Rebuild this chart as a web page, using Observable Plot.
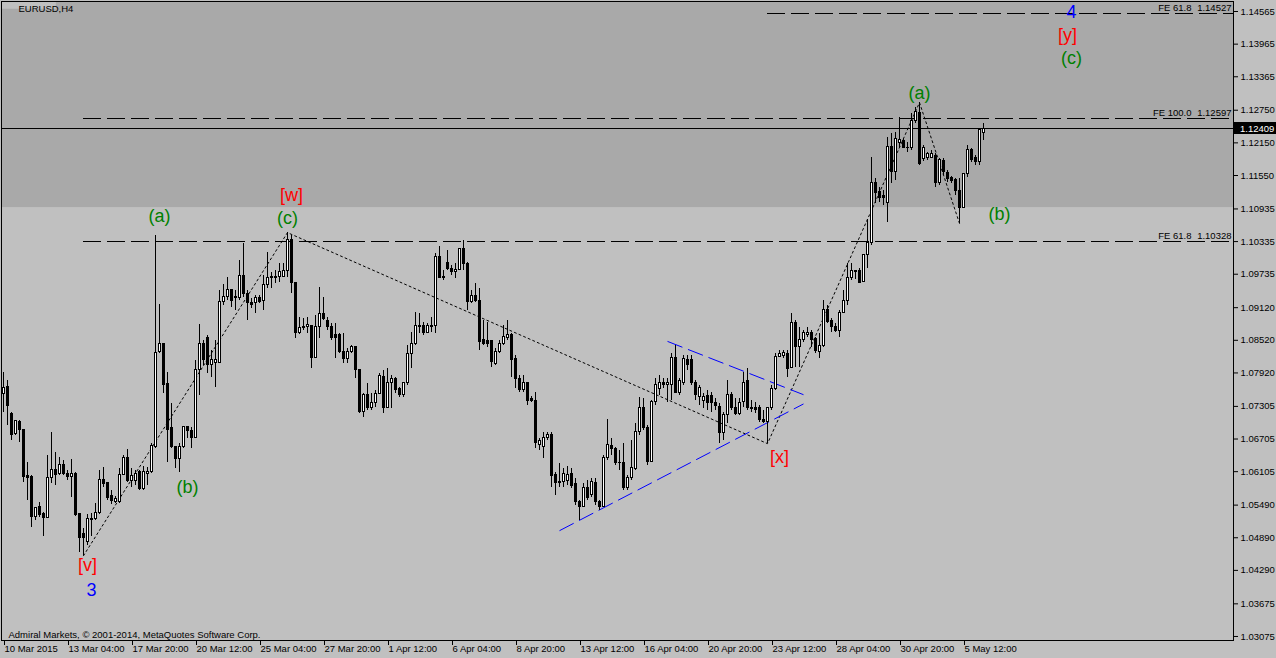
<!DOCTYPE html>
<html><head><meta charset="utf-8">
<script src="https://cdn.jsdelivr.net/npm/d3@7"></script>
<script src="https://cdn.jsdelivr.net/npm/@observablehq/plot@0.6"></script>
<style>
html,body{margin:0;padding:0;background:#c0c0c0;overflow:hidden}
#chart svg{display:block}
</style></head><body><div id="chart"></div>
<script>
// EURUSD H4 bars, index 0 = 10 Mar 2015 12:00, [open, high, low, close]
const bars = [
[1.0754,1.0793,1.0719,1.0765],[1.0767,1.0778,1.0695,1.0732],[1.0717,1.0719,1.0668,1.0677],[1.0679,1.0705,1.0677,1.0703],
[1.0701,1.0705,1.0664,1.0688],[1.0688,1.0688,1.0591,1.0600],[1.0602,1.0627,1.0558,1.0598],[1.0600,1.0603,1.0508,1.0528],
[1.0528,1.0545,1.0521,1.0543],[1.0545,1.0554,1.0526,1.0530],[1.0532,1.0535,1.0491,1.0526],[1.0526,1.0640,1.0524,1.0598],
[1.0598,1.0683,1.0589,1.0613],[1.0613,1.0646,1.0585,1.0605],[1.0607,1.0637,1.0603,1.0622],[1.0622,1.0631,1.0603,1.0607],
[1.0607,1.0613,1.0594,1.0600],[1.0600,1.0633,1.0563,1.0607],[1.0607,1.0609,1.0528,1.0530],[1.0532,1.0532,1.0462,1.0489],
[1.0495,1.0506,1.0456,1.0489],[1.0482,1.0532,1.0475,1.0524],[1.0524,1.0534,1.0491,1.0521],[1.0523,1.0552,1.0521,1.0534],
[1.0534,1.0613,1.0532,1.0596],[1.0596,1.0618,1.0581,1.0587],[1.0589,1.0591,1.0558,1.0563],[1.0565,1.0576,1.0550,1.0556],
[1.0554,1.0565,1.0552,1.0561],[1.0554,1.0616,1.0552,1.0605],[1.0605,1.0640,1.0603,1.0635],[1.0635,1.0651,1.0591,1.0593],
[1.0594,1.0616,1.0581,1.0603],[1.0593,1.0613,1.0585,1.0607],[1.0609,1.0613,1.0576,1.0578],[1.0578,1.0620,1.0576,1.0609],
[1.0607,1.0618,1.0585,1.0609],[1.0609,1.0662,1.0607,1.0657],[1.0655,1.1045,1.0653,1.0828],[1.0830,1.0918,1.0828,1.0846],
[1.0846,1.0846,1.0754,1.0769],[1.0771,1.0793,1.0627,1.0688],[1.0690,1.0736,1.0653,1.0655],[1.0655,1.0657,1.0616,1.0633],
[1.0633,1.0662,1.0609,1.0655],[1.0655,1.0692,1.0653,1.0692],[1.0692,1.0694,1.0672,1.0686],[1.0686,1.0692,1.0653,1.0672],
[1.0672,1.0815,1.0672,1.0797],[1.0797,1.0881,1.0751,1.0846],[1.0846,1.0852,1.0806,1.0815],[1.0857,1.0861,1.0791,1.0806],
[1.0806,1.0833,1.0784,1.0815],[1.0811,1.0852,1.0765,1.0815],[1.0811,1.0944,1.0809,1.0922],[1.0922,1.0955,1.0916,1.0931],
[1.0931,1.0967,1.0925,1.0944],[1.0944,1.0945,1.0912,1.0925],[1.0929,1.0944,1.0907,1.0931],[1.0929,1.0999,1.0925,1.0971],
[1.0971,1.1030,1.0931,1.0938],[1.0938,1.0944,1.0888,1.0920],[1.0920,1.0929,1.0911,1.0916],[1.0920,1.0934,1.0901,1.0929],
[1.0929,1.0934,1.0920,1.0922],[1.0925,1.0971,1.0907,1.0953],[1.0953,1.1013,1.0947,1.0967],[1.0967,1.0977,1.0947,1.0969],
[1.0967,1.0980,1.0956,1.0969],[1.0969,1.0993,1.0958,1.0977],[1.0969,1.0993,1.0967,1.0980],[1.0980,1.1050,1.0967,1.1036],
[1.1036,1.1045,1.0938,1.0958],[1.0958,1.0958,1.0855,1.0866],[1.0866,1.0894,1.0863,1.0874],[1.0874,1.0892,1.0870,1.0876],
[1.0876,1.0894,1.0865,1.0881],[1.0879,1.0879,1.0800,1.0820],[1.0820,1.0898,1.0818,1.0876],[1.0876,1.0949,1.0855,1.0901],
[1.0901,1.0931,1.0888,1.0892],[1.0888,1.0894,1.0870,1.0876],[1.0877,1.0883,1.0852,1.0857],[1.0861,1.0883,1.0818,1.0857],
[1.0861,1.0865,1.0828,1.0830],[1.0831,1.0865,1.0809,1.0818],[1.0818,1.0837,1.0809,1.0831],[1.0830,1.0842,1.0828,1.0839],
[1.0839,1.0839,1.0782,1.0797],[1.0797,1.0797,1.0717,1.0721],[1.0721,1.0754,1.0710,1.0752],[1.0752,1.0773,1.0723,1.0727],
[1.0727,1.0754,1.0723,1.0736],[1.0736,1.0760,1.0728,1.0754],[1.0754,1.0791,1.0752,1.0787],[1.0784,1.0797,1.0717,1.0728],
[1.0728,1.0800,1.0727,1.0774],[1.0774,1.0787,1.0727,1.0780],[1.0780,1.0784,1.0754,1.0760],[1.0762,1.0765,1.0747,1.0751],
[1.0751,1.0774,1.0747,1.0773],[1.0773,1.0842,1.0769,1.0826],[1.0826,1.0866,1.0800,1.0846],[1.0846,1.0903,1.0842,1.0879],
[1.0876,1.0901,1.0865,1.0879],[1.0879,1.0885,1.0861,1.0866],[1.0866,1.0883,1.0865,1.0879],[1.0877,1.0894,1.0866,1.0879],
[1.0879,1.1012,1.0865,1.1006],[1.1006,1.1025,1.0966,1.0967],[1.0969,1.0980,1.0962,1.0966],[1.0995,1.1017,1.0980,1.0984],
[1.0984,1.0990,1.0971,1.0977],[1.0977,1.0993,1.0966,1.0982],[1.0982,1.1021,1.0980,1.1019],[1.1019,1.1036,1.0980,1.0993],
[1.0993,1.0995,1.0907,1.0922],[1.0922,1.0944,1.0920,1.0934],[1.0934,1.0956,1.0922,1.0925],[1.0925,1.0947,1.0833,1.0848],
[1.0852,1.0888,1.0842,1.0846],[1.0850,1.0885,1.0839,1.0846],[1.0850,1.0852,1.0802,1.0813],[1.0809,1.0837,1.0806,1.0830],
[1.0830,1.0852,1.0828,1.0846],[1.0846,1.0879,1.0842,1.0859],[1.0857,1.0888,1.0852,1.0861],[1.0861,1.0865,1.0784,1.0815],
[1.0817,1.0824,1.0763,1.0780],[1.0780,1.0787,1.0756,1.0760],[1.0760,1.0787,1.0756,1.0773],[1.0773,1.0774,1.0732,1.0741],
[1.0745,1.0748,1.0738,1.0741],[1.0741,1.0756,1.0653,1.0664],[1.0659,1.0672,1.0649,1.0666],[1.0655,1.0683,1.0635,1.0673],
[1.0673,1.0683,1.0668,1.0677],[1.0677,1.0683,1.0581,1.0603],[1.0605,1.0609,1.0567,1.0589],[1.0591,1.0626,1.0581,1.0589],
[1.0591,1.0616,1.0581,1.0607],[1.0594,1.0620,1.0585,1.0605],[1.0607,1.0616,1.0580,1.0585],[1.0587,1.0598,1.0548,1.0554],
[1.0554,1.0558,1.0521,1.0546],[1.0546,1.0589,1.0545,1.0580],[1.0581,1.0594,1.0558,1.0563],[1.0567,1.0598,1.0563,1.0591],
[1.0589,1.0598,1.0548,1.0554],[1.0554,1.0558,1.0539,1.0546],[1.0546,1.0640,1.0545,1.0635],[1.0635,1.0706,1.0631,1.0659],
[1.0657,1.0672,1.0640,1.0653],[1.0653,1.0655,1.0622,1.0627],[1.0627,1.0649,1.0613,1.0626],[1.0626,1.0662,1.0576,1.0580],
[1.0580,1.0603,1.0576,1.0598],[1.0598,1.0668,1.0594,1.0618],[1.0616,1.0699,1.0613,1.0683],[1.0683,1.0747,1.0677,1.0727],
[1.0727,1.0745,1.0686,1.0690],[1.0690,1.0695,1.0622,1.0629],[1.0629,1.0741,1.0627,1.0738],[1.0738,1.0782,1.0732,1.0769],
[1.0763,1.0787,1.0751,1.0773],[1.0773,1.0782,1.0763,1.0769],[1.0769,1.0782,1.0738,1.0774],[1.0769,1.0828,1.0741,1.0820],
[1.0820,1.0842,1.0754,1.0756],[1.0756,1.0782,1.0751,1.0778],[1.0774,1.0824,1.0769,1.0817],[1.0815,1.0824,1.0797,1.0806],
[1.0815,1.0824,1.0769,1.0773],[1.0774,1.0778,1.0741,1.0751],[1.0747,1.0769,1.0732,1.0765],[1.0741,1.0754,1.0727,1.0747],
[1.0749,1.0760,1.0723,1.0736],[1.0749,1.0756,1.0719,1.0736],[1.0736,1.0745,1.0723,1.0732],[1.0730,1.0736,1.0662,1.0681],
[1.0681,1.0719,1.0668,1.0714],[1.0714,1.0778,1.0699,1.0752],[1.0751,1.0756,1.0723,1.0728],[1.0728,1.0745,1.0714,1.0717],
[1.0717,1.0745,1.0714,1.0736],[1.0738,1.0793,1.0728,1.0774],[1.0778,1.0800,1.0723,1.0727],[1.0728,1.0741,1.0719,1.0725],
[1.0728,1.0738,1.0717,1.0723],[1.0728,1.0732,1.0701,1.0705],[1.0705,1.0723,1.0699,1.0701],[1.0701,1.0727,1.0662,1.0727],
[1.0727,1.0769,1.0723,1.0762],[1.0762,1.0828,1.0760,1.0822],[1.0822,1.0833,1.0820,1.0826],[1.0824,1.0833,1.0818,1.0828],
[1.0826,1.0833,1.0784,1.0800],[1.0802,1.0901,1.0800,1.0883],[1.0883,1.0888,1.0802,1.0839],[1.0839,1.0876,1.0802,1.0852],
[1.0852,1.0870,1.0848,1.0866],[1.0861,1.0876,1.0857,1.0866],[1.0866,1.0870,1.0839,1.0852],[1.0855,1.0857,1.0828,1.0833],
[1.0831,1.0865,1.0818,1.0842],[1.0842,1.0925,1.0839,1.0907],[1.0907,1.0916,1.0883,1.0885],[1.0888,1.0892,1.0866,1.0876],
[1.0877,1.0883,1.0866,1.0870],[1.0870,1.0907,1.0857,1.0903],[1.0903,1.0944,1.0901,1.0925],[1.0925,1.0993,1.0916,1.0967],
[1.0967,1.0993,1.0962,1.0980],[1.0977,1.0980,1.0964,1.0980],[1.0980,1.0984,1.0956,1.0958],[1.0960,1.1008,1.0958,1.1008],
[1.1008,1.1074,1.0984,1.1030],[1.1030,1.1188,1.1026,1.1142],[1.1142,1.1150,1.1104,1.1122],[1.1124,1.1133,1.1105,1.1113],
[1.1118,1.1127,1.1100,1.1113],[1.1105,1.1225,1.1069,1.1208],[1.1208,1.1232,1.1140,1.1161],[1.1161,1.1234,1.1146,1.1223],
[1.1214,1.1262,1.1206,1.1221],[1.1219,1.1223,1.1205,1.1206],[1.1205,1.1216,1.1197,1.1206],[1.1206,1.1269,1.1201,1.1256],
[1.1256,1.1280,1.1251,1.1271],[1.1269,1.1289,1.1173,1.1177],[1.1186,1.1210,1.1181,1.1206],[1.1188,1.1197,1.1183,1.1194],
[1.1188,1.1201,1.1186,1.1194],[1.1190,1.1196,1.1133,1.1142],[1.1142,1.1186,1.1137,1.1183],[1.1181,1.1186,1.1155,1.1161],
[1.1159,1.1164,1.1142,1.1148],[1.1151,1.1153,1.1140,1.1144],[1.1146,1.1150,1.1118,1.1126],[1.1127,1.1150,1.1067,1.1096],
[1.1096,1.1157,1.1094,1.1157],[1.1157,1.1210,1.1151,1.1201],[1.1201,1.1205,1.1179,1.1183],[1.1188,1.1192,1.1173,1.1179],
[1.1179,1.1242,1.1173,1.1238],[1.1234,1.1251,1.1219,1.12409]
];

// Time axis: bar index of each labelled tick and its text
const xTickBars = [0,16,32,48,64,80,96,112,128,144,160,176,192,208,224,240];
const xTickLabels = ["10 Mar 2015","13 Mar 04:00","17 Mar 20:00","20 Mar 12:00","25 Mar 04:00","27 Mar 20:00",
  "1 Apr 12:00","6 Apr 04:00","8 Apr 20:00","13 Apr 12:00","16 Apr 04:00","20 Apr 20:00","23 Apr 12:00",
  "28 Apr 04:00","30 Apr 20:00","5 May 12:00"];

// Price axis tick values (as printed)
const yTicks = [1.14565,1.13965,1.13365,1.12750,1.12150,1.11550,1.10935,1.10335,1.09735,1.09120,
  1.08520,1.07920,1.07305,1.06705,1.06105,1.05490,1.04890,1.04290,1.03675,1.03075];

// Fibonacci expansion levels: ratio, price, bar where the line starts
const feRatios = ["61.8","100.0","61.8"];
const fePrices = [1.14527,1.12597,1.10328];
const feStartBars = [191,20,20];

// Shaded target zone (rectangle object) lower/upper price
const zoneLow = 1.1096, zoneHigh = 1.1500;

// Zig-zag wave pivots: bar index and whether it's a high or a low
const pivotBars = [20,71,191,229,239];
const pivotKinds = ["low","high","low","high","low"];

// Blue triangle trendlines: [bar1, price1, bar2, price2]
const triangleLines = [[166,1.0850,200,1.0752],[139,1.0502,200,1.0735]];

// Elliott wave labels: text, bar index, price, degree
const waveTexts  = ["4","[y]","(c)","(a)","(b)","[w]","(c)","(a)","(b)","[v]","3","[x]"];
const waveBars   = [267,266,267,229,249,72,71,39,46,21,22,194];
const wavePrices = [1.1455,1.1412,1.1370,1.1306,1.1083,1.1118,1.1076,1.1081,1.0581,1.0438,1.0392,1.0637];
const waveDegree = ["minor","minute","minuette","minuette","minuette","minute","minuette","minuette","minuette","minute","minor","minute"];

const symbol = "EURUSD,H4";
const copyright = "Admiral Markets, \u00a9 2001-2014, MetaQuotes Software Corp.";

// ---------- build tables ----------
const candles = bars.map(([o,h,l,c], i) => ({i, o, h, l, c, up: c >= o}));
const lastClose = bars[bars.length-1][3];
const pivots = pivotBars.map((b,k) => ({i: b, p: pivotKinds[k] === "high" ? bars[b][1] : bars[b][2]}));
const fe = feRatios.map((r,k) => ({ratio: r, price: fePrices[k], from: feStartBars[k]}));
const tri = triangleLines.map(([a,b,c,d]) => ({x1:a, y1:b, x2:c, y2:d}));
const degreeColor = {minor:"#0000ff", minute:"#ff0000", minuette:"#008000"};
const waves = waveTexts.map((t,k) => ({t, i: waveBars[k], p: wavePrices[k], color: degreeColor[waveDegree[k]]}));

const W = 1276, H = 658, MR = 43;
const xDomain = [-0.5, 307.5];
const yDomain = [1.03001, 1.14749];
const font = "'Liberation Sans', Arial, sans-serif";

const chart = Plot.plot({
  width: W, height: H,
  marginLeft: 1, marginRight: MR, marginTop: 1, marginBottom: 18,
  style: {background: "#c0c0c0", fontFamily: font, fontSize: "9.5px", color: "black"},
  x: {domain: xDomain, label: null},
  y: {domain: yDomain, label: null},
  marks: [
    Plot.rect([{lo: zoneLow, hi: zoneHigh}], {y1: "lo", y2: "hi", fill: "#a9a9a9", clip: true}),
    Plot.ruleY(fe, {y: "price", x1: "from", x2: xDomain[1], stroke: "black", strokeWidth: 1, strokeDasharray: "18,6", shapeRendering: "crispEdges"}),
    Plot.text(fe, {y: "price", text: d => "FE " + d.ratio, frameAnchor: "right", textAnchor: "end", dx: -42, dy: -6, fill: "black"}),
    Plot.text(fe, {y: "price", text: d => d.price.toFixed(5), frameAnchor: "right", textAnchor: "end", dx: -2, dy: -6, fill: "black"}),
    Plot.ruleY([lastClose], {stroke: "black", strokeWidth: 1, shapeRendering: "crispEdges"}),
    Plot.line(pivots, {x: "i", y: "p", stroke: "black", strokeWidth: 1, strokeDasharray: "2,3"}),
    Plot.link(tri, {x1: "x1", y1: "y1", x2: "x2", y2: "y2", stroke: "#0000ff", strokeWidth: 1, strokeDasharray: "16,6"}),
    Plot.ruleX(candles, {x: "i", y1: "l", y2: "h", stroke: "black", strokeWidth: 1, shapeRendering: "crispEdges"}),
    Plot.rect(candles, {x1: d => d.i - 0.25, x2: d => d.i + 0.25, y1: "o", y2: "c",
      fill: d => d.up ? "white" : "black", stroke: "black", strokeWidth: 1, dx: 0.5, shapeRendering: "crispEdges"}),
    Plot.text(waves, {x: "i", y: "p", text: "t", fill: "color", fontSize: 18, lineAnchor: "middle"}),
    Plot.text([symbol], {frameAnchor: "top-left", text: d => d, dx: 17, dy: 4, lineAnchor: "top", textAnchor: "start", fill: "black"}),
    Plot.text([copyright], {frameAnchor: "bottom-left", text: d => d, dx: 7, dy: -3, lineAnchor: "bottom", textAnchor: "start", fill: "black"}),
    Plot.frame({stroke: "black", strokeWidth: 1}),
    Plot.axisY(yTicks, {anchor: "right", tickSize: 4, tickPadding: 3, tickFormat: d => d.toFixed(5), label: null}),
    Plot.axisX(xTickBars, {anchor: "bottom", tickSize: 5, tickPadding: 0, textAnchor: "start", dx: 1,
      tickFormat: d => xTickLabels[xTickBars.indexOf(d)], label: null})
  ]
});
document.getElementById("chart").appendChild(chart);

// current price tag on the price axis
const svg = d3.select(chart);
const yPix = Math.round(chart.scale("y").apply(lastClose));
const tag = svg.append("g").attr("text-anchor", "start");
tag.append("rect").attr("x", W - MR + 1).attr("y", yPix - 6).attr("width", MR - 1).attr("height", 12)
  .style("fill", "black").style("stroke", "none");
tag.append("text").attr("x", W - MR + 7).attr("y", yPix + 3.5).style("fill", "white")
  .attr("text-anchor", "start").attr("font-family", font).attr("font-size", "9.5px").text(lastClose.toFixed(5));

// symbol header: light box and small triangle
const titleNode = svg.selectAll("text").filter(function(){ return this.textContent === symbol; }).node();
if (titleNode) {
  const bb = titleNode.getBBox();
  svg.insert("rect", function(){ return titleNode.parentNode; })
    .attr("x", bb.x - 1).attr("y", bb.y).attr("width", bb.width + 2).attr("height", bb.height).style("fill", "#c0c0c0");
  svg.append("path").attr("d", `M${bb.x-11},${bb.y+bb.height/2-2}h7l-3.5,4z`).style("fill", "black");
}
</script></body></html>
